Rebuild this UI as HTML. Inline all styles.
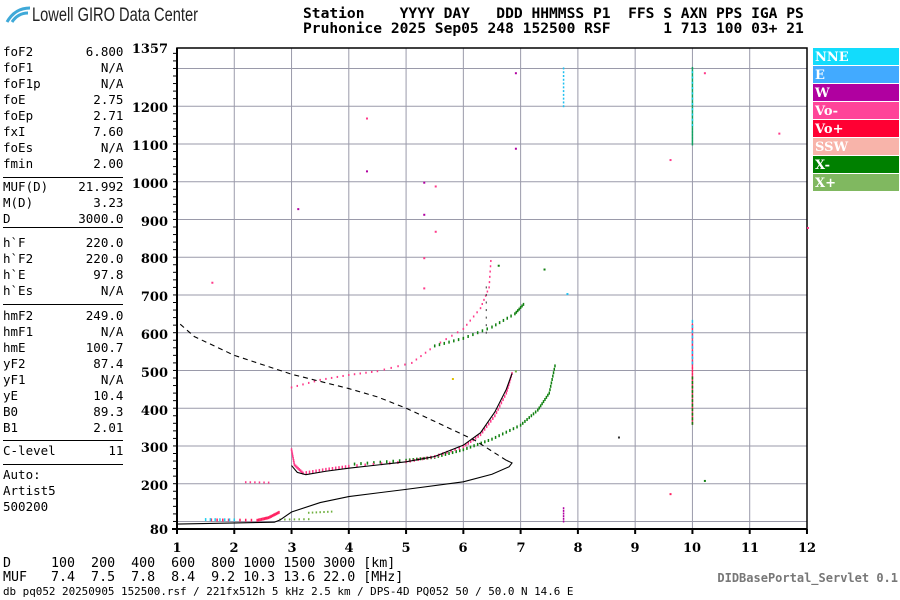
<!DOCTYPE html>
<html><head><meta charset="utf-8"><style>
body{margin:0;background:#fff;width:900px;height:600px;overflow:hidden;position:relative;font-family:"DejaVu Sans Mono","Liberation Mono",monospace}
.t{position:absolute;white-space:pre;margin:0}
#hdr{left:303px;top:6px;font-size:14.6px;font-weight:bold;line-height:15px;color:#000}
.lp{left:3px;font-size:12.5px;line-height:16px;color:#000}
.sep{position:absolute;left:3px;width:120px;height:1px;background:#000}
#bt{left:3px;top:557px;font-size:13.3px;line-height:13.5px}
#db{left:3px;top:586px;font-size:10.9px;line-height:12px}
</style></head><body>
<svg width="900" height="600" style="position:absolute;left:0;top:0" id="s" xmlns="http://www.w3.org/2000/svg">
<g id="grid"></g><g id="data"></g>
<path d="M7 22 Q15 8 30 8" stroke="#3fa9d8" stroke-width="3" fill="none"/>
<path d="M12 22 Q18 13 28 13" stroke="#3fa9d8" stroke-width="3" fill="none"/>
<text x="32" y="21" font-family="Liberation Sans Narrow,Liberation Sans,sans-serif" font-size="19" fill="#222" textLength="166" lengthAdjust="spacingAndGlyphs">Lowell GIRO Data Center</text>
<g font-family="DejaVu Serif,Liberation Serif,serif" font-weight="bold" font-size="13" text-anchor="end">
<text x="168" y="53">1357</text><text x="168" y="112">1200</text><text x="168" y="150">1100</text><text x="168" y="188">1000</text><text x="168" y="226">900</text><text x="168" y="263">800</text><text x="168" y="301">700</text><text x="168" y="339">600</text><text x="168" y="377">500</text><text x="168" y="415">400</text><text x="168" y="452">300</text><text x="168" y="490">200</text><text x="168" y="534">80</text>
</g>
<g font-family="DejaVu Serif,Liberation Serif,serif" font-weight="bold" font-size="13" text-anchor="middle">
<text x="177" y="552">1</text><text x="234" y="552">2</text><text x="292" y="552">3</text><text x="349" y="552">4</text><text x="406" y="552">5</text><text x="463" y="552">6</text><text x="521" y="552">7</text><text x="578" y="552">8</text><text x="635" y="552">9</text><text x="692" y="552">10</text><text x="750" y="552">11</text><text x="807" y="552">12</text>
</g>
<g font-family="DejaVu Serif,Liberation Serif,serif" font-weight="bold" font-size="13" fill="#fff">
<rect x="813" y="48" width="86" height="17" fill="#12dcfc"/><text x="815" y="61">NNE</text>
<rect x="813" y="66" width="86" height="17" fill="#42aaff"/><text x="815" y="79">E</text>
<rect x="813" y="84" width="86" height="17" fill="#b000a0"/><text x="815" y="97">W</text>
<rect x="813" y="102" width="86" height="17" fill="#ff4499"/><text x="815" y="115">Vo-</text>
<rect x="813" y="120" width="86" height="17" fill="#ff0033"/><text x="815" y="133">Vo+</text>
<rect x="813" y="138" width="86" height="17" fill="#f8b4aa"/><text x="815" y="151">SSW</text>
<rect x="813" y="156" width="86" height="17" fill="#008000"/><text x="815" y="169">X-</text>
<rect x="813" y="174" width="86" height="17" fill="#80b860"/><text x="815" y="187">X+</text>
</g>
<text x="898" y="582" text-anchor="end" font-family="DejaVu Sans Mono,monospace" font-weight="bold" font-size="12" fill="#777">DIDBasePortal_Servlet 0.1</text>
</svg>
<div class="t" id="hdr">Station    YYYY DAY   DDD HHMMSS P1  FFS S AXN PPS IGA PS
Pruhonice 2025 Sep05 248 152500 RSF      1 713 100 03+ 21</div>
<div class="t lp" style="top:44px">foF2       6.800
foF1         N/A
foF1p        N/A
foE         2.75
foEp        2.71
fxI         7.60
foEs         N/A
fmin        2.00</div>
<div class="sep" style="top:177px"></div>
<div class="t lp" style="top:179px">MUF(D)    21.992
M(D)        3.23
D         3000.0</div>
<div class="sep" style="top:227px"></div>
<div class="t lp" style="top:235px">h`F        220.0
h`F2       220.0
h`E         97.8
h`Es         N/A</div>
<div class="sep" style="top:304px"></div>
<div class="t lp" style="top:308px">hmF2       249.0
hmF1         N/A
hmE        100.7
yF2         87.4
yF1          N/A
yE          10.4
B0          89.3
B1          2.01</div>
<div class="sep" style="top:440px"></div>
<div class="t lp" style="top:443px">C-level       11</div>
<div class="sep" style="top:464px"></div>
<div class="t lp" style="top:467px">Auto:
Artist5
500200</div>
<div class="t" id="bt">D     100  200  400  600  800 1000 1500 3000 [km]
MUF   7.4  7.5  7.8  8.4  9.2 10.3 13.6 22.0 [MHz]</div>
<div class="t" id="db">db pq052 20250905 152500.rsf / 221fx512h 5 kHz 2.5 km / DPS-4D PQ052 50 / 50.0 N 14.6 E</div>
<script>
var NS="http://www.w3.org/2000/svg",g=document.getElementById('grid'),d=document.getElementById('data');
function X(f){return 177+(f-1)*57.27}function Y(h){return 529-(h-80)*0.3775}
function el(p,t,a){var e=document.createElementNS(NS,t);for(var k in a)e.setAttribute(k,a[k]);p.appendChild(e);return e}
for(var f=2;f<=11;f++)el(g,'line',{x1:X(f),x2:X(f),y1:48,y2:529,stroke:'#9a9aaa','stroke-width':1});
for(var h=100;h<=1300;h+=100)el(g,'line',{x1:177,x2:807,y1:Y(h),y2:Y(h),stroke:'#9a9aaa','stroke-width':1});
for(var h=100;h<1357;h+=20)el(g,'line',{x1:173,x2:177,y1:Y(h),y2:Y(h),stroke:'#000'});
for(var f=1;f<=12;f++)el(g,'line',{x1:X(f),x2:X(f),y1:529,y2:534,stroke:'#000','stroke-width':2});
el(g,'rect',{x:177,y:48,width:630,height:481,fill:'none',stroke:'#000','stroke-width':1.5});
el(g,'line',{x1:177,x2:177,y1:48,y2:534,stroke:'#000','stroke-width':2});
el(g,'line',{x1:172,x2:807,y1:529,y2:529,stroke:'#000','stroke-width':2});
function interp(pts,n){var o=[];for(var i=0;i<pts.length-1;i++)for(var j=0;j<n;j++){var t=j/n;o.push([pts[i][0]+(pts[i+1][0]-pts[i][0])*t,pts[i][1]+(pts[i+1][1]-pts[i][1])*t])}o.push(pts[pts.length-1]);return o}
function dots(pts,n,c,w,hh){interp(pts,n).forEach(function(p){el(d,'rect',{x:X(p[0])-w/2,y:Y(p[1])-hh/2,width:w,height:hh,fill:c})})}
function line(pts,dash){var s=pts.map(function(p){return X(p[0])+','+Y(p[1])}).join(' ');el(d,'polyline',{points:s,fill:'none',stroke:'#000','stroke-width':1.1,'stroke-dasharray':dash||'none'})}
dots([[4.1,252],[5,262],[5.5,270],[6,290],[6.5,318],[7,355],[7.3,395],[7.5,440],[7.6,512]],8,'#108010',1.5,3);
dots([[3,290],[3.05,250],[3.2,228],[3.6,238],[4,246],[5,258],[5.5,272],[6,298],[6.3,330],[6.55,380],[6.75,440],[6.85,492]],7,'#ff3a8a',1.5,3);
dots([[1.6,104],[2.4,103],[2.6,110],[2.78,124]],8,'#ff2060',1.5,3);
dots([[1.5,105],[2.0,104]],6,'#20d0f0',1.5,3);
dots([[2.8,105],[3.3,106]],6,'#70b040',1.5,2);dots([[3.3,123],[3.7,126]],6,'#70b040',1.5,2);
dots([[2.2,204],[2.6,203]],5,'#ff3a8a',1.5,2);
dots([[3.0,455],[3.5,475],[4,488],[4.5,498],[5.1,520],[5.5,565],[6,610],[6.3,665],[6.45,720],[6.48,790]],5,'#ff3a8a',1.5,2);
dots([[5.5,565],[6,585],[6.5,615],[6.9,650],[7.05,675]],6,'#108010',1.5,3);
dots([[6.4,600],[6.4,720]],6,'#333',1,2);
line([[3,248],[3.1,230],[3.25,224],[3.6,233],[4,241],[5,258],[5.5,272],[6,302],[6.3,335],[6.55,390],[6.75,450],[6.85,492]]);
line([[1,93],[2.7,98],[2.8,104],[3,125],[3.5,150],[4,166],[5,185],[6,205],[6.5,225],[6.8,245],[6.85,255],[6.75,262]]);
line([[6.75,262],[6.2,315],[5.5,365],[5,400],[4.5,430],[4,452],[3,490],[2,540],[1.3,590],[1,630]],'5,4');
dots([[10,1100],[10,1300]],25,'#10a060',1.5,3);dots([[10,1150],[10,1290]],10,'#20d0f0',1.5,2);
dots([[10,360],[10,620]],30,'#ff2060',1.5,3);dots([[10,360],[10,480]],10,'#108010',1.5,3);dots([[10,520],[10,630]],8,'#20c0f0',1.5,3);
dots([[7.75,1200],[7.75,1300]],10,'#20c0f0',1.5,2);dots([[7.75,100],[7.75,135]],5,'#b000a0',1.5,2);
[[5.3,1000,'#b000a0'],[5.5,990,'#ff3a8a'],[3.1,930,'#b000a0'],[5.3,915,'#b000a0'],[5.5,870,'#ff3a8a'],[5.3,800,'#ff3a8a'],[6.6,780,'#108010'],[7.4,770,'#108010'],[5.3,720,'#ff3a8a'],[7.8,705,'#20c0f0'],[1.6,735,'#ff3a8a'],[6.9,500,'#70b040'],[9.6,1060,'#ff3a8a'],[10.2,1290,'#ff3a8a'],[11.5,1130,'#ff3a8a'],[12,880,'#ff3a8a'],[8.7,325,'#333'],[9.6,175,'#ff2060'],[10.2,210,'#108010'],[4.3,1030,'#b000a0'],[4.3,1170,'#ff3a8a'],[6.9,1290,'#b000a0'],[5.8,480,'#e0c000'],[6.9,1090,'#b000a0']].forEach(function(p){el(d,'rect',{x:X(p[0]),y:Y(p[1]),width:2,height:2,fill:p[2]})});
</script>
</body></html>
